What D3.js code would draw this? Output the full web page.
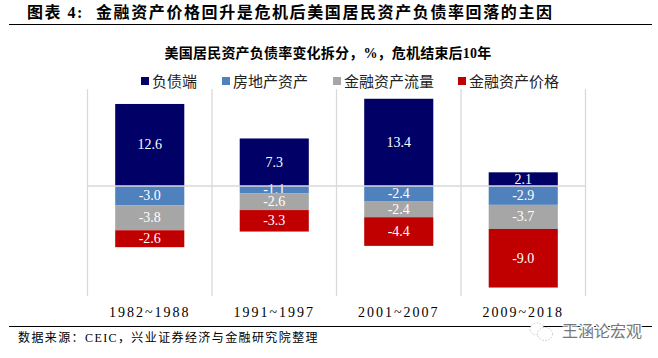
<!DOCTYPE html>
<html lang="zh">

<head>
    <meta charset="UTF-8">
    <title>美国居民资产负债率变化拆分</title>
    <script src="https://d3js.org/d3.v7.min.js"></script>
    <style>
        body {
            margin: 0;
            background: #fff;
        }

        text {
            font-family: "Liberation Serif", "Noto Sans CJK SC", serif;
        }
    </style>
</head>

<body>
    <svg id="chart"></svg>

    <script>
        const periods = ['1982~1988', '1991~1997', '2001~2007', '2009~2018'];
        const seriesNames = ['负债端', '房地产资产', '金融资产流量', '金融资产价格'];
        const seriesColors = ['#000066', '#4f81bd', '#a6a6a6', '#c00000'];
        const liabilities = [12.6, 7.3, 13.4, 2.1];
        const realEstate = [-3.0, -1.1, -2.4, -2.9];
        const financialFlow = [-3.8, -2.6, -2.4, -3.7];
        const financialPrice = [-2.6, -3.3, -4.4, -9.0];
        const legendX = [141, 222, 333, 458];

        const width = 658;
        const height = 358;

        const svg = d3.select('#chart')
            .attr('width', width)
            .attr('height', height);

        const rows = periods.map((p, i) => ({
            period: p,
            [seriesNames[0]]: liabilities[i],
            [seriesNames[1]]: realEstate[i],
            [seriesNames[2]]: financialFlow[i],
            [seriesNames[3]]: financialPrice[i]
        }));

        const stacked = d3.stack()
            .keys(seriesNames)
            .offset(d3.stackOffsetDiverging)(rows);

        const x = d3.scaleBand()
            .domain(periods)
            .range([87.5, 585.5])
            .paddingInner(0.445)
            .paddingOuter(0.2225);

        const y = d3.scaleLinear()
            .domain([-16.9, 14.9])
            .range([296, 89]);

        // vertical grid on the category boundaries
        const step = x.step();
        svg.append('g').selectAll('line')
            .data(d3.range(periods.length + 1))
            .enter().append('line')
            .attr('x1', d => 87.5 + d * step)
            .attr('x2', d => 87.5 + d * step)
            .attr('y1', y.range()[1])
            .attr('y2', y.range()[0])
            .attr('stroke', '#d9d9d9')
            .attr('stroke-width', 1.3);

        const groups = svg.append('g').selectAll('g')
            .data(stacked)
            .enter().append('g')
            .attr('fill', (d, i) => seriesColors[i]);

        groups.selectAll('rect')
            .data(d => d)
            .enter().append('rect')
            .attr('x', d => x(d.data.period))
            .attr('width', x.bandwidth())
            .attr('y', d => y(Math.max(d[0], d[1])))
            .attr('height', d => Math.abs(y(d[0]) - y(d[1])));

        // zero line sits above the bars
        svg.append('line')
            .attr('x1', 87.5)
            .attr('x2', 585.5)
            .attr('y1', y(0))
            .attr('y2', y(0))
            .attr('stroke', '#d9d9d9')
            .attr('stroke-width', 1.3);

        groups.selectAll('text')
            .data(d => d.map(v => ({ v, value: v.data[d.key] })))
            .enter().append('text')
            .attr('x', d => x(d.v.data.period) + x.bandwidth() / 2)
            .attr('y', d => y((d.v[0] + d.v[1]) / 2) + 4.5)
            .attr('text-anchor', 'middle')
            .attr('fill', '#fff')
            .attr('font-size', 14)
            .text(d => d.value.toFixed(1));

        const xAxis = svg.append('g')
            .attr('transform', 'translate(0,307)')
            .call(d3.axisBottom(x).tickSize(0).tickPadding(0));
        xAxis.select('.domain').remove();
        xAxis.selectAll('text')
            .attr('font-size', 14)
            .attr('letter-spacing', 2)
            .attr('fill', '#000')
            .style('font-family', '"Liberation Serif"');

        // legend
        const legend = svg.append('g').selectAll('g')
            .data(seriesNames)
            .enter().append('g')
            .attr('transform', (d, i) => `translate(${legendX[i]},77)`);
        legend.append('rect')
            .attr('width', 8)
            .attr('height', 8)
            .attr('fill', (d, i) => seriesColors[i]);
        legend.append('text')
            .attr('x', 11)
            .attr('y', 9.5)
            .attr('font-size', 15)
            .attr('fill', '#222')
            .text(d => d);

        // headings
        svg.append('text')
            .attr('x', 27)
            .attr('y', 18)
            .attr('font-size', 16)
            .attr('font-weight', 'bold')
            .attr('letter-spacing', 1.5)
            .attr('xml:space', 'preserve')
            .text('图表 4:');
        svg.append('text')
            .attr('x', 96)
            .attr('y', 18)
            .attr('font-size', 16)
            .attr('font-weight', 'bold')
            .attr('letter-spacing', 1.6)
            .text('金融资产价格回升是危机后美国居民资产负债率回落的主因');
        svg.append('line')
            .attr('x1', 9).attr('x2', 652)
            .attr('y1', 24.5).attr('y2', 24.5)
            .attr('stroke', '#000').attr('stroke-width', 1);

        svg.append('text')
            .attr('x', 328)
            .attr('y', 58)
            .attr('text-anchor', 'middle')
            .attr('font-size', 14)
            .attr('font-weight', 'bold')
            .attr('letter-spacing', 0.2)
            .text('美国居民资产负债率变化拆分，%，危机结束后10年');

        svg.append('line')
            .attr('x1', 9).attr('x2', 652)
            .attr('y1', 326.5).attr('y2', 326.5)
            .attr('stroke', '#000').attr('stroke-width', 1);

        svg.append('text')
            .attr('x', 18)
            .attr('y', 341.5)
            .attr('font-size', 12)
            .attr('letter-spacing', 1.4)
            .text('数据来源：CEIC，兴业证券经济与金融研究院整理');

        // watermark
        const mark = svg.append('g').attr('fill', '#fff').attr('stroke', '#bbb')
            .attr('stroke-width', 0.8).attr('stroke-dasharray', '1.5 1.5');
        mark.append('ellipse').attr('cx', 537).attr('cy', 329).attr('rx', 7).attr('ry', 6);
        mark.append('ellipse').attr('cx', 545).attr('cy', 334).attr('rx', 7.5).attr('ry', 6.5);
        svg.append('text')
            .attr('x', 562)
            .attr('y', 337)
            .attr('font-size', 16)
            .attr('fill', '#777')
            .attr('stroke', '#fff')
            .attr('stroke-width', 2.5)
            .attr('paint-order', 'stroke')
            .text('王涵论宏观');
    </script>

</body>

</html>
